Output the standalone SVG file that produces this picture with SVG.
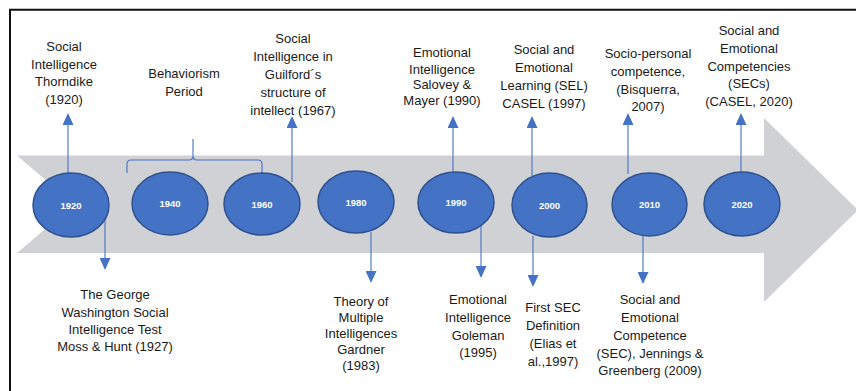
<svg xmlns="http://www.w3.org/2000/svg" width="856" height="391" viewBox="0 0 856 391">
<defs>
<style>
.lbl{font-family:"Liberation Sans",Arial,sans-serif;font-size:13px;fill:#1a1a1a;text-anchor:middle}
.yr{font-family:"Liberation Sans",Arial,sans-serif;font-size:9.5px;font-weight:bold;fill:#ffffff;text-anchor:middle}
.node{fill:#4472C4;stroke:#2F528F;stroke-width:1.5}
.conn{fill:none;stroke:#4472C4;stroke-width:1.1}
</style>
<marker id="tri" viewBox="0 0 12 11" refX="0" refY="5.5" markerWidth="12" markerHeight="11" markerUnits="userSpaceOnUse" orient="auto">
<path d="M0,0 L12,5.5 L0,11 z" fill="#4472C4"/>
</marker>
</defs>
<rect x="0" y="0" width="856" height="391" fill="#ffffff"/>
<path d="M10,391 V9.7 H856" fill="none" stroke="#111" stroke-width="2"/>
<g id="timeline-arrow">
<polygon points="17,155.5 764,155.5 764,118 858,210 764,302 764,253 17,253 74,204.5" fill="#D0D1D5"/>
</g>
<g id="connectors">
<line class="conn" x1="68" y1="174" x2="68" y2="125" marker-end="url(#tri)"/>
<line class="conn" x1="292" y1="182" x2="292" y2="128" marker-end="url(#tri)"/>
<line class="conn" x1="453" y1="172" x2="453" y2="128" marker-end="url(#tri)"/>
<line class="conn" x1="532" y1="176" x2="532" y2="128" marker-end="url(#tri)"/>
<line class="conn" x1="628" y1="174" x2="628" y2="125" marker-end="url(#tri)"/>
<line class="conn" x1="741" y1="173" x2="741" y2="125" marker-end="url(#tri)"/>
<line class="conn" x1="105" y1="218" x2="105" y2="258" marker-end="url(#tri)"/>
<line class="conn" x1="371" y1="232" x2="371" y2="271" marker-end="url(#tri)"/>
<line class="conn" x1="481" y1="225" x2="481" y2="266" marker-end="url(#tri)"/>
<line class="conn" x1="533" y1="236" x2="533" y2="275" marker-end="url(#tri)"/>
<line class="conn" x1="643" y1="236" x2="643" y2="272" marker-end="url(#tri)"/>
<path class="conn" stroke-width="2" d="M127,173 V164 Q127,160 131,160 H189 Q193,160 193,156 V139 M193,156 Q193,160 197,160 H258 Q262,160 262,164 V173"/>
</g>
<g id="n1920"><ellipse class="node" cx="71" cy="205" rx="38" ry="32"/><text class="yr" x="71" y="208.5">1920</text></g>
<g id="n1940"><ellipse class="node" cx="170" cy="203.5" rx="38" ry="31.5"/><text class="yr" x="170" y="207">1940</text></g>
<g id="n1960"><ellipse class="node" cx="262" cy="204" rx="38" ry="31"/><text class="yr" x="262" y="207.5">1960</text></g>
<g id="n1980"><ellipse class="node" cx="356" cy="202" rx="38" ry="31"/><text class="yr" x="356" y="205.5">1980</text></g>
<g id="n1990"><ellipse class="node" cx="456" cy="202.5" rx="38" ry="30.5"/><text class="yr" x="456" y="206">1990</text></g>
<g id="n2000"><ellipse class="node" cx="549.5" cy="205" rx="37.5" ry="32"/><text class="yr" x="549.5" y="208.5">2000</text></g>
<g id="n2010"><ellipse class="node" cx="649.5" cy="204.5" rx="37.5" ry="31.5"/><text class="yr" x="649.5" y="208">2010</text></g>
<g id="n2020"><ellipse class="node" cx="742" cy="204" rx="38" ry="32"/><text class="yr" x="742" y="207.5">2020</text></g>
<g id="t-thorndike"><text class="lbl" x="64"><tspan x="64" y="51">Social</tspan><tspan x="64" y="68.5">Intelligence</tspan><tspan x="64" y="86">Thorndike</tspan><tspan x="64" y="103.5">(1920)</tspan></text></g>
<g id="t-behaviorism"><text class="lbl" x="184"><tspan x="184" y="78">Behaviorism</tspan><tspan x="184" y="96">Period</tspan></text></g>
<g id="t-guilford"><text class="lbl" x="293"><tspan x="293" y="43">Social</tspan><tspan x="293" y="61">Intelligence in</tspan><tspan x="293" y="79">Guilford´s</tspan><tspan x="293" y="96.5">structure of</tspan><tspan x="293" y="114.5">intellect (1967)</tspan></text></g>
<g id="t-salovey"><text class="lbl" x="442"><tspan x="442" y="56.5">Emotional</tspan><tspan x="442" y="73.5">Intelligence</tspan><tspan x="442" y="89">Salovey &amp;</tspan><tspan x="442" y="105">Mayer (1990)</tspan></text></g>
<g id="t-sel"><text class="lbl" x="544"><tspan x="544" y="54">Social and</tspan><tspan x="544" y="72">Emotional</tspan><tspan x="544" y="90">Learning (SEL)</tspan><tspan x="544" y="108">CASEL (1997)</tspan></text></g>
<g id="t-bisquerra"><text class="lbl" x="648"><tspan x="648" y="58">Socio-personal</tspan><tspan x="648" y="75.5">competence,</tspan><tspan x="648" y="93.5">(Bisquerra,</tspan><tspan x="648" y="111">2007)</tspan></text></g>
<g id="t-casel2020"><text class="lbl" x="749"><tspan x="749" y="35">Social and</tspan><tspan x="749" y="53">Emotional</tspan><tspan x="749" y="70.5">Competencies</tspan><tspan x="749" y="88">(SECs)</tspan><tspan x="749" y="105.5">(CASEL, 2020)</tspan></text></g>
<g id="t-moss"><text class="lbl" x="115"><tspan x="115" y="298.5">The George</tspan><tspan x="115" y="316.5">Washington Social</tspan><tspan x="115" y="333.5">Intelligence Test</tspan><tspan x="115" y="351">Moss &amp; Hunt (1927)</tspan></text></g>
<g id="t-gardner"><text class="lbl" x="361"><tspan x="361" y="306">Theory of</tspan><tspan x="361" y="322">Multiple</tspan><tspan x="361" y="338">Intelligences</tspan><tspan x="361" y="354">Gardner</tspan><tspan x="361" y="370">(1983)</tspan></text></g>
<g id="t-goleman"><text class="lbl" x="478"><tspan x="478" y="303.5">Emotional</tspan><tspan x="478" y="321.5">Intelligence</tspan><tspan x="478" y="339.5">Goleman</tspan><tspan x="478" y="357">(1995)</tspan></text></g>
<g id="t-firstsec"><text class="lbl" x="553"><tspan x="553" y="312">First SEC</tspan><tspan x="553" y="330">Definition</tspan><tspan x="553" y="348">(Elias et</tspan><tspan x="553" y="366">al.,1997)</tspan></text></g>
<g id="t-jennings"><text class="lbl" x="650"><tspan x="650" y="303.5">Social and</tspan><tspan x="650" y="321.5">Emotional</tspan><tspan x="650" y="339.5">Competence</tspan><tspan x="650" y="357.5">(SEC), Jennings &amp;</tspan><tspan x="650" y="375">Greenberg (2009)</tspan></text></g>
</svg>
